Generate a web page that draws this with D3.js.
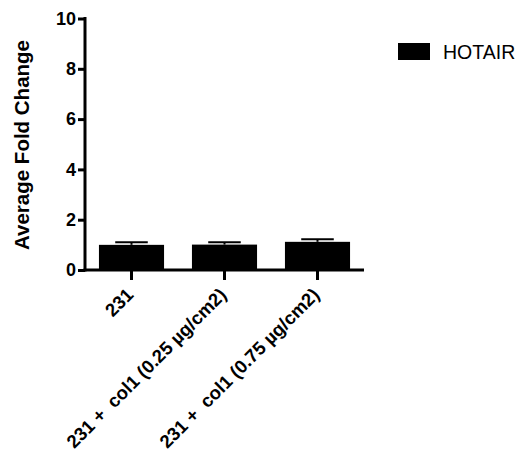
<!DOCTYPE html>
<html>
<head>
<meta charset="utf-8">
<script src="https://cdn.jsdelivr.net/npm/d3@7"></script>
<style>
  html, body { margin: 0; padding: 0; background: #fff; }
  svg { display: block; font-family: Arial, "Liberation Sans", sans-serif; }
</style>
</head>
<body>
<svg id="chart" width="520" height="450"></svg>
<script>
// Sample groups, mean fold change and error (SEM)
const categories = ["231", "231 +  col1 (0.25 µg/cm2)", "231 +  col1 (0.75 µg/cm2)"];
const foldChange = [1.0, 1.01, 1.12];
const errors = [0.1, 0.09, 0.1];
const yTicks = [0, 2, 4, 6, 8, 10];
const seriesName = "HOTAIR";

const svg = d3.select("#chart");
const plotLeft = 85, plotRight = 364, plotTop = 18.5, plotBottom = 270;

const x = d3.scaleBand().domain(categories).range([plotLeft, plotRight])
  .paddingInner(0.3).paddingOuter(0.15);
const y = d3.scaleLinear().domain([0, 10]).range([plotBottom, plotTop]);

// Bars
svg.append("g").selectAll("rect")
  .data(categories)
  .join("rect")
  .attr("x", d => x(d))
  .attr("width", x.bandwidth())
  .attr("y", (d, i) => y(foldChange[i]))
  .attr("height", (d, i) => y(0) - y(foldChange[i]))
  .attr("fill", "#000");

// Error bars (upper whisker with cap)
const eb = svg.append("g").attr("stroke", "#000").attr("stroke-width", 2);
categories.forEach((c, i) => {
  const cx = x(c) + x.bandwidth() / 2;
  const capW = x.bandwidth() * 0.5;
  eb.append("line")
    .attr("x1", cx).attr("x2", cx)
    .attr("y1", y(foldChange[i])).attr("y2", y(foldChange[i] + errors[i]));
  eb.append("line")
    .attr("x1", cx - capW / 2).attr("x2", cx + capW / 2)
    .attr("y1", y(foldChange[i] + errors[i])).attr("y2", y(foldChange[i] + errors[i]));
});

// Y axis
const yAxis = svg.append("g")
  .attr("transform", `translate(${plotLeft},0)`)
  .call(d3.axisLeft(y).tickValues(yTicks).tickSize(7).tickPadding(2).tickSizeOuter(0));
yAxis.select(".domain").attr("stroke-width", 3).attr("d", `M0,${plotBottom + 1.5}V${plotTop - 1.5}`);
yAxis.selectAll(".tick line").attr("stroke-width", 3);
yAxis.selectAll(".tick text")
  .attr("font-size", 18).attr("font-weight", "bold").attr("fill", "#000")
  .attr("font-family", "Arial, 'Liberation Sans', sans-serif");

// X axis
const xAxis = svg.append("g")
  .attr("transform", `translate(0,${plotBottom})`)
  .call(d3.axisBottom(x).tickSize(10).tickSizeOuter(0).tickPadding(0));
xAxis.select(".domain").attr("stroke-width", 3).attr("d", `M${plotLeft - 1.5},0H${plotRight}`);
xAxis.selectAll(".tick line").attr("stroke-width", 3);
xAxis.selectAll(".tick text")
  .attr("font-size", 18.5).attr("font-weight", "bold").attr("fill", "#000")
  .attr("font-family", "Arial, 'Liberation Sans', sans-serif")
  .style("white-space", "pre")
  .attr("text-anchor", "end")
  .attr("dy", null).attr("y", null)
  .attr("transform", "translate(3,26) rotate(-45)");

// Y axis title
svg.append("text")
  .attr("transform", `translate(29,145) rotate(-90)`)
  .attr("text-anchor", "middle")
  .attr("font-size", 20.5).attr("font-weight", "bold")
  .text("Average Fold Change");

// Legend
const lg = svg.append("g").attr("transform", "translate(398,43)");
lg.append("rect").attr("width", 32).attr("height", 17).attr("fill", "#000");
lg.append("text").attr("x", 45).attr("y", 16).attr("font-size", 19.5).text(seriesName);
</script>
</body>
</html>
